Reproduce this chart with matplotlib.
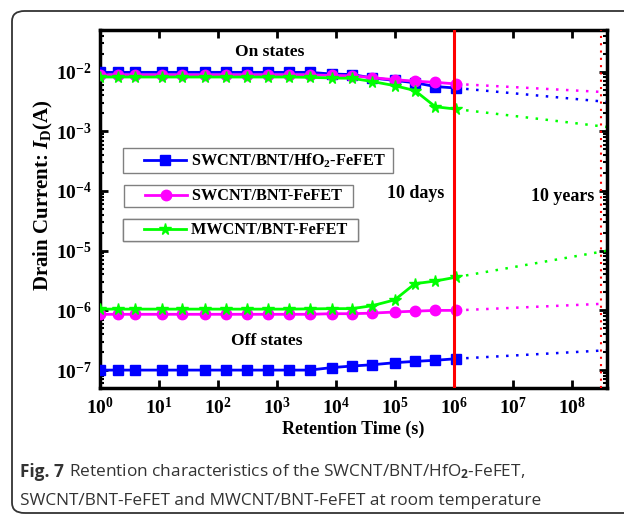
import matplotlib
matplotlib.use("Agg")
import matplotlib.pyplot as plt
from matplotlib.patches import FancyBboxPatch
from matplotlib.lines import Line2D
from matplotlib.legend_handler import HandlerLine2D

plt.rcParams['font.family'] = 'Liberation Serif'
plt.rcParams['font.weight'] = 'bold'
plt.rcParams['mathtext.fontset'] = 'custom'
plt.rcParams['mathtext.rm'] = 'Liberation Serif:bold'
plt.rcParams['mathtext.bf'] = 'Liberation Serif:bold'
plt.rcParams['mathtext.it'] = 'Liberation Serif:bold:italic'
plt.rcParams['mathtext.sf'] = 'Open Sans'

# retention time (s)
t = [1, 2, 4, 11.5, 25, 60, 138, 310, 700, 1600, 3600, 8500, 19000, 42000,
     1.0e5, 2.2e5, 4.9e5, 1.1e6]
t_ext = [1.1e6, 4e8]

# on states
sw_hf_on = [9.7e-3, 9.7e-3, 9.7e-3, 9.7e-3, 9.7e-3, 9.7e-3, 9.7e-3, 9.7e-3, 9.7e-3, 9.7e-3,
            9.7e-3, 9.1e-3, 8.9e-3, 7.8e-3, 7.1e-3, 6.5e-3, 5.6e-3, 5.3e-3]
sw_on = [8.8e-3, 8.8e-3, 8.8e-3, 8.8e-3, 8.8e-3, 8.8e-3, 8.8e-3, 8.8e-3, 8.8e-3, 8.8e-3,
         8.8e-3, 8.6e-3, 8.5e-3, 7.9e-3, 7.3e-3, 6.9e-3, 6.6e-3, 6.2e-3]
mw_on = [8.1e-3, 8.1e-3, 8.1e-3, 8.1e-3, 8.1e-3, 8.1e-3, 8.1e-3, 8.1e-3, 8.1e-3, 8.1e-3,
         8.0e-3, 7.8e-3, 7.7e-3, 6.8e-3, 5.8e-3, 4.8e-3, 2.57e-3, 2.35e-3]

# off states
sw_hf_off = [1.0e-7, 1.0e-7, 1.0e-7, 1.0e-7, 1.0e-7, 1.0e-7, 1.0e-7, 1.0e-7, 1.0e-7, 1.0e-7,
             1.0e-7, 1.1e-7, 1.17e-7, 1.23e-7, 1.33e-7, 1.4e-7, 1.46e-7, 1.55e-7]
sw_off = [8.6e-7, 8.6e-7, 8.6e-7, 8.6e-7, 8.6e-7, 8.6e-7, 8.6e-7, 8.6e-7, 8.6e-7, 8.6e-7,
          8.6e-7, 8.8e-7, 8.8e-7, 9.0e-7, 9.4e-7, 9.7e-7, 1.0e-6, 1.0e-6]
mw_off = [1.05e-6, 1.05e-6, 1.05e-6, 1.05e-6, 1.05e-6, 1.05e-6, 1.05e-6, 1.05e-6, 1.05e-6, 1.05e-6,
          1.06e-6, 1.07e-6, 1.07e-6, 1.2e-6, 1.5e-6, 2.8e-6, 3.1e-6, 3.6e-6]

# extrapolated values at 10 years
sw_hf_on_ext = [5.3e-3, 3.1e-3]
sw_on_ext = [6.2e-3, 4.5e-3]
mw_on_ext = [2.35e-3, 1.18e-3]
sw_hf_off_ext = [1.55e-7, 2.15e-7]
sw_off_ext = [1.0e-6, 1.3e-6]
mw_off_ext = [3.6e-6, 1.0e-5]

labels = [r'SWCNT/BNT/HfO$_2$-FeFET', 'SWCNT/BNT-FeFET', 'MWCNT/BNT-FeFET']
colors = ['#0000ff', '#ff00ff', '#00ff00']
markers = ['s', 'o', '*']
msizes = [6.5, 7.5, 8.5]

fig = plt.figure(figsize=(6.24, 5.14), dpi=100)
ax = fig.add_axes([0.160, 0.245, 0.813, 0.697])

series = [(sw_hf_on, sw_hf_off, sw_hf_on_ext, sw_hf_off_ext),
          (sw_on, sw_off, sw_on_ext, sw_off_ext),
          (mw_on, mw_off, mw_on_ext, mw_off_ext)]
for i, (on, off, on_e, off_e) in enumerate(series):
    for y in (on, off):
        ax.plot(t, y, color=colors[i], marker=markers[i], ms=msizes[i], lw=2, zorder=3)
    for y in (on_e, off_e):
        ax.plot(t_ext, y, color=colors[i], ls=(0, (1, 3)), lw=1.8, zorder=2)

ax.axvline(1e6, color='#ff0000', lw=2.2, zorder=4)
ax.axvline(3.15e8, color='#ff0000', ls=(0, (1, 2.5)), lw=1.5, zorder=4)

ax.set_xscale('log')
ax.set_yscale('log')
ax.set_xlim(1, 4e8)
ax.set_ylim(5e-8, 5e-2)
ax.set_xticks([1, 1e1, 1e2, 1e3, 1e4, 1e5, 1e6, 1e7, 1e8])
ax.set_yticks([1e-7, 1e-6, 1e-5, 1e-4, 1e-3, 1e-2])

for s in ax.spines.values():
    s.set_linewidth(2.5)
ax.tick_params(which='major', direction='in', length=6, width=2, top=True, right=True,
               labelsize=14, pad=6)
ax.tick_params(which='minor', direction='in', length=3, width=1.5, top=True, right=True)

ax.set_xlabel('Retention Time (s)', fontsize=13, fontweight='bold', labelpad=2)
ax.set_ylabel(r'Drain Current: $I_\mathrm{D}$(A)', fontsize=15, fontweight='bold')
ax.yaxis.set_label_coords(-0.088, 0.54)

ax.text(760, 2.1e-2, 'On states', fontsize=12.5, ha='center', va='center')
ax.text(680, 3.1e-7, 'Off states', fontsize=12.5, ha='center', va='center')
ax.text(2.3e5, 9e-5, '10 days', fontsize=13, ha='center', va='center')
ax.text(7e7, 8.2e-5, '10 years', fontsize=13, ha='center', va='center')

# three separate legend boxes
anchors = [(0.045, 0.670), (0.047, 0.567), (0.045, 0.472)]
for i in range(3):
    h = Line2D([], [], color=colors[i], marker=markers[i], ms=msizes[i], lw=2)
    leg = ax.legend([h], [labels[i] + '  '], loc='upper left', bbox_to_anchor=anchors[i],
                    borderaxespad=0, fancybox=False, edgecolor='#808080', framealpha=1,
                    handlelength=3.7, handletextpad=0.3, borderpad=0.2,
                    numpoints=1, prop={'weight': 'bold', 'size': 11.7},
                    handler_map={h: HandlerLine2D(xpad=1.1)})
    leg.get_frame().set_linewidth(1.0)
    ax.add_artist(leg)

# outer rounded frame
frame = FancyBboxPatch((12 / 624, 1 / 514), 1.2, 1 - 11 / 514 - 1 / 514,
                       boxstyle='round,pad=0,rounding_size=0.02',
                       transform=fig.transFigure, fill=False, edgecolor='#333333',
                       lw=1.3, clip_on=False)
fig.patches.append(frame)

# caption
cap_kw = dict(fontsize=12.4, color='#333333', family='Open Sans', va='baseline')
fig.canvas.draw()
r = fig.canvas.get_renderer()
t1 = fig.text(20 / 624, 1 - 477 / 514, 'Fig. 7', fontweight='bold', **cap_kw)
bb = t1.get_window_extent(renderer=r)
fig.text(bb.x1 / 624 + 0.008, 1 - 477 / 514,
         r'Retention characteristics of the SWCNT/BNT/HfO$_\mathsf{2}$-FeFET,',
         fontweight='normal', **cap_kw)
fig.text(20 / 624, 1 - 505 / 514,
         'SWCNT/BNT-FeFET and MWCNT/BNT-FeFET at room temperature',
         fontweight='normal', **cap_kw)

fig.savefig('out.png', dpi=100)
